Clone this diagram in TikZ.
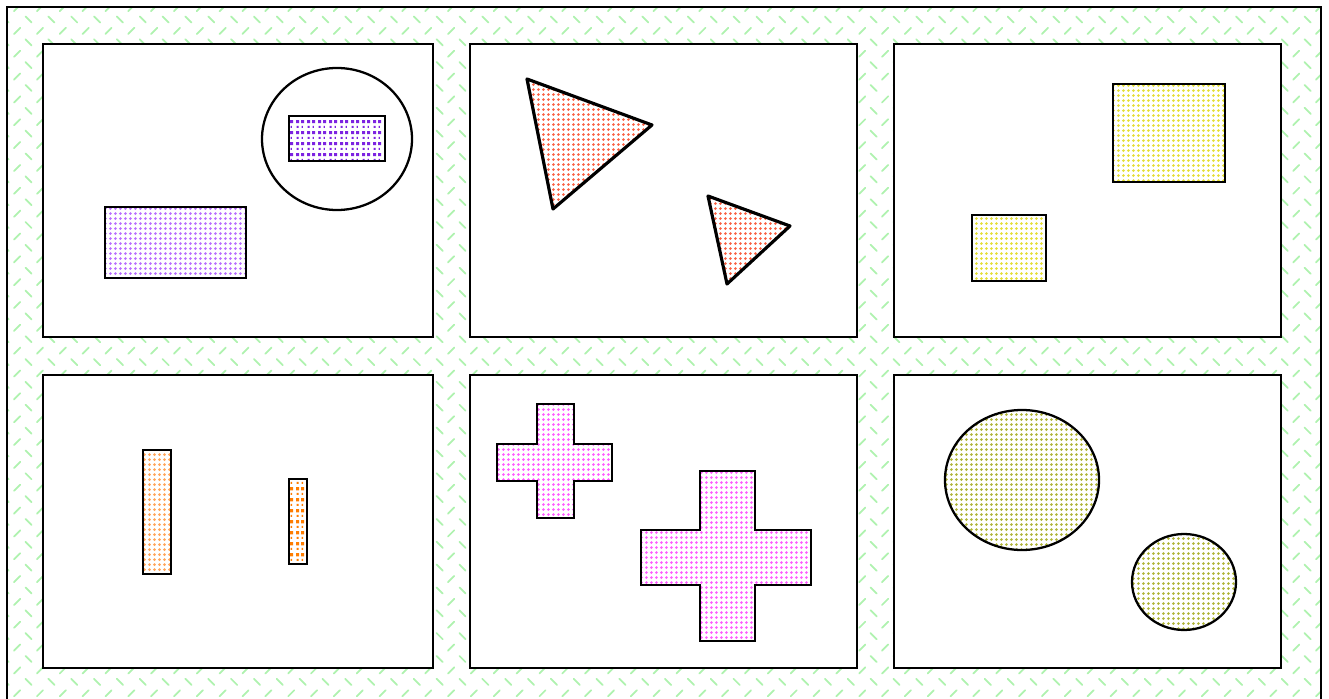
\documentclass[tikz,border=0pt]{standalone}
\usetikzlibrary{patterns}

\definecolor{bggreen}{RGB}{175,242,175}
\definecolor{purpA}{RGB}{185,110,255}
\definecolor{purpB}{RGB}{125,35,225}
\definecolor{redA}{RGB}{250,95,65}
\definecolor{yelA}{RGB}{228,222,50}
\definecolor{oraA}{RGB}{255,165,90}
\definecolor{oraB}{RGB}{255,125,0}
\definecolor{pinkA}{RGB}{255,90,255}
\definecolor{oliveA}{RGB}{175,180,55}

% 背景の模様
\pgfdeclarepatternformonly{weave}{\pgfqpoint{-1pt}{-1pt}}{\pgfqpoint{14pt}{14pt}}{\pgfqpoint{13pt}{13pt}}{
  \pgfsetlinewidth{1pt}
  \pgfsetroundcap
  \pgfpathmoveto{\pgfqpoint{1.5pt}{11.5pt}}\pgfpathlineto{\pgfqpoint{5pt}{8pt}}
  \pgfpathmoveto{\pgfqpoint{8pt}{1.5pt}}\pgfpathlineto{\pgfqpoint{11.5pt}{5pt}}
  \pgfusepath{stroke}}
% 細かい点
\pgfdeclarepatternformonly{finedots}{\pgfqpoint{0pt}{0pt}}{\pgfqpoint{2.8pt}{2.8pt}}{\pgfqpoint{2.8pt}{2.8pt}}{
  \pgfpathcircle{\pgfqpoint{1.4pt}{1.4pt}}{0.85pt}
  \pgfusepath{fill}}
% 粗い四角
\pgfdeclarepatternformonly{sqdots}{\pgfqpoint{0pt}{0pt}}{\pgfqpoint{6pt}{6pt}}{\pgfqpoint{6pt}{6pt}}{
  \pgfpathrectangle{\pgfqpoint{0.6pt}{3.4pt}}{\pgfqpoint{1.8pt}{1.8pt}}
  \pgfpathrectangle{\pgfqpoint{3.6pt}{3.4pt}}{\pgfqpoint{1.8pt}{1.8pt}}
  \pgfpathrectangle{\pgfqpoint{0.9pt}{0.6pt}}{\pgfqpoint{1.2pt}{1.2pt}}
  \pgfpathrectangle{\pgfqpoint{3.9pt}{0.6pt}}{\pgfqpoint{0.8pt}{1.2pt}}
  \pgfusepath{fill}}

\tikzset{panel/.style={draw,line width=1.3pt,fill=white}}
\tikzset{figA/.style={draw,line width=1.3pt,pattern=finedots,pattern color=#1}}
\tikzset{figB/.style={draw,line width=1.3pt,pattern=sqdots,pattern color=#1}}
\tikzset{figT/.style={draw,line width=1.8pt,line join=round,pattern=finedots,pattern color=#1}}

\begin{document}
\begin{tikzpicture}[x=0.02cm,y=-0.02cm]

\clip (0,0) rectangle (1329,699);

% 外枠
\draw[line width=1.5pt,pattern=weave,pattern color=bggreen] (7,7) rectangle (1321,720);

% パネル
\foreach \xa/\xb in {43/433,470/857,894/1281}{
  \draw[panel] (\xa,44) rectangle (\xb,337);
  \draw[panel] (\xa,375) rectangle (\xb,668);
}

% 第1パネル
\draw[line width=1.3pt] (337,139) ellipse [x radius=75, y radius=71];
\draw[figB=purpB] (289,116) rectangle (385,161);
\draw[figA=purpA] (105,207) rectangle (246,278);

% 第2パネル
\draw[figT=redA] (527,79) -- (652,125) -- (553,209) -- cycle;
\draw[figT=redA] (708,196) -- (790,226) -- (727,284) -- cycle;

% 第3パネル
\draw[figA=yelA] (1113,84) rectangle (1225,182);
\draw[figA=yelA] (972,215) rectangle (1046,281);

% 第4パネル
\draw[figA=oraA] (143,450) rectangle (171,574);
\draw[figB=oraB] (289,479) rectangle (307,564);

% 第5パネル
\draw[figA=pinkA]
    (537,404) -- (574,404) -- (574,444) -- (612,444) -- (612,481) -- (574,481)
    -- (574,518) -- (537,518) -- (537,481) -- (497,481) -- (497,444) -- (537,444) -- cycle;
\draw[figA=pinkA]
    (700,471) -- (755,471) -- (755,530) -- (811,530) -- (811,585) -- (755,585)
    -- (755,641) -- (700,641) -- (700,585) -- (641,585) -- (641,530) -- (700,530) -- cycle;

% 第6パネル
\draw[figA=oliveA] (1022,480) ellipse [x radius=77, y radius=70];
\draw[figA=oliveA] (1184,582) ellipse [x radius=52, y radius=48];

\end{tikzpicture}
\end{document}
